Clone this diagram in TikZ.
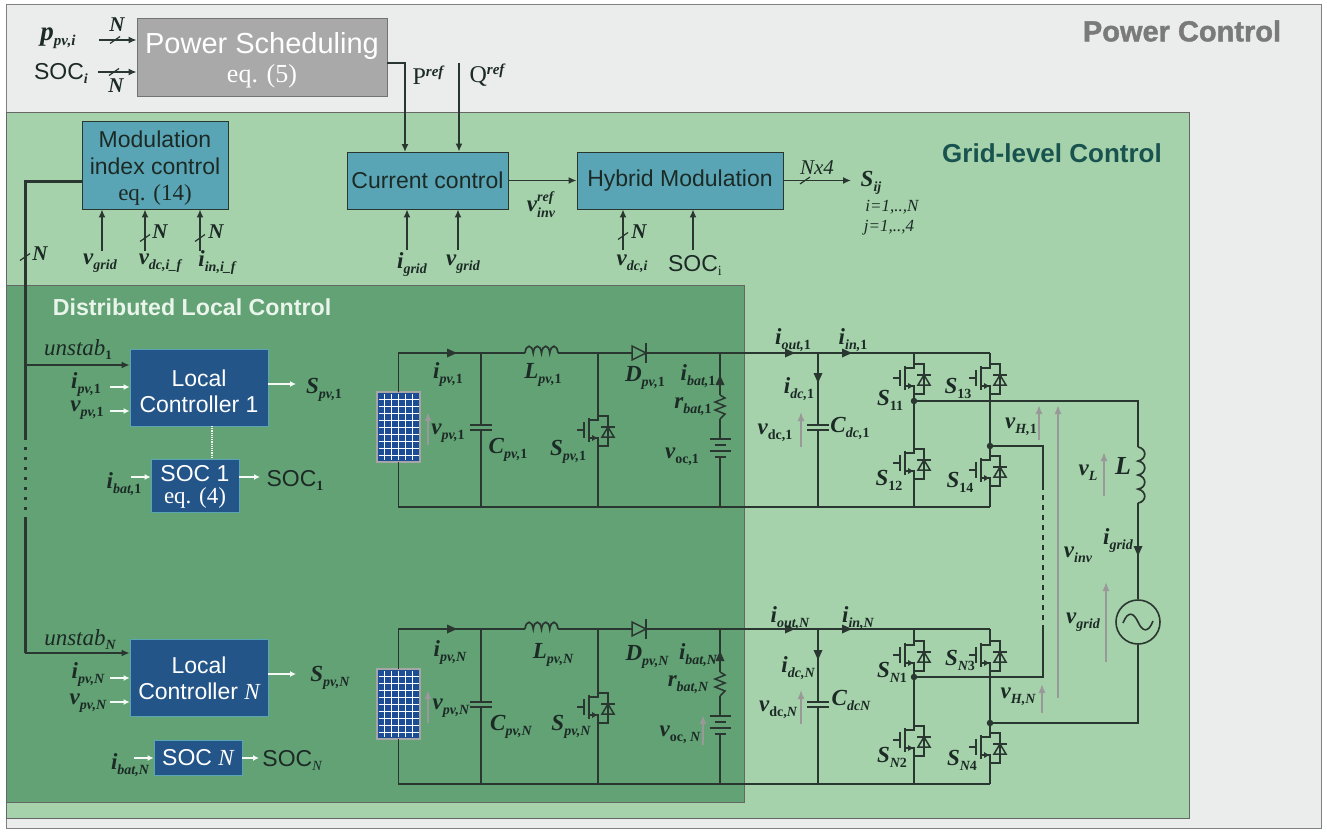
\documentclass[tikz,border=0pt]{standalone}
\usepackage{fontspec}
\usepackage{tikz}
\usetikzlibrary{arrows.meta}
\setmainfont{Liberation Sans}
\newfontfamily\tms{Liberation Serif}
\newfontfamily\pcf[BoldFeatures={FakeBold=1.4}]{Liberation Sans}
\definecolor{pc}{RGB}{235, 236, 236}
\definecolor{gc}{RGB}{166, 210, 171}
\definecolor{lc}{RGB}{98, 162, 117}
\definecolor{bb}{RGB}{90, 165, 181}
\definecolor{dd}{RGB}{36, 85, 137}
\definecolor{ss}{RGB}{169, 169, 169}
\definecolor{ww}{RGB}{42, 54, 48}
\definecolor{tt}{RGB}{28, 42, 38}
\definecolor{pb}{RGB}{28, 76, 150}
\newcommand{\fs}[1]{\fontsize{#1}{#1}\selectfont}
\newcommand{\pad}[1]{\rule{0pt}{#1}}
\newcommand{\lbl}[3]{{\tms\bfseries\itshape\fs{23}#1\raisebox{-5pt}{\fs{14}#2{\upshape #3}}}}
\newcommand{\lblb}[3]{{\tms\bfseries\itshape\fs{27}#1\raisebox{-5pt}{\fs{15}#2{\upshape #3}}}}
\newcommand{\lblu}[2]{{\tms\bfseries\itshape\fs{23}#1\raisebox{-5pt}{\upshape\fs{14}#2}}}
\newcommand{\lbls}[3]{{\tms\bfseries\itshape\fs{23}#1\rlap{\raisebox{10pt}{\fs{14}#3}}\raisebox{-6pt}{\fs{14}#2}}}
\newcommand{\lblr}[2]{{\tms\fs{24}#1\raisebox{8pt}{\bfseries\itshape\fs{15}#2}}}
\tikzset{
wire/.style={line width=1.5pt, color=ww},
arr/.style={line width=1.5pt, color=ww, -{Latex[length=8pt,width=7pt]}},
thk/.style={line width=3pt, color=ww},
warr/.style={line width=1.6pt, color=white!90!gc, -{Latex[length=6pt,width=6pt]}},
garr/.style={line width=1.6pt, color=black!40, -{Latex[length=9pt,width=7pt]}},
lab/.style={inner sep=0pt, text=tt},
blue/.style={rectangle, inner sep=0pt, fill=bb, draw=ww, line width=0.8pt, text=tt, align=center, font=\fontsize{23}{26.5}\selectfont},
navy/.style={rectangle, inner sep=0pt, fill=dd, draw=bb, line width=0.8pt, text=white, align=center, font=\fontsize{23}{26}\selectfont},
dot/.style={circle, inner sep=0pt, minimum size=6.5pt, fill=ww},
mosfet/.pic={
\coordinate (-d) at (0pt,18pt);
\coordinate (-s) at (0pt,-18pt);
\draw [wire] (-21pt,0pt) to (-14pt,0pt);
\draw [wire] (-14pt,8pt) to (-14pt,-8pt);
\draw [line width=2pt, color=ww] (-9.5pt,12pt) to (-9.5pt,-12pt);
\draw [wire] (-9.5pt,10pt) -- (0pt,10pt) -- (0pt,18pt);
\draw [wire] (-9.5pt,-8pt) -- (0pt,-8pt) -- (0pt,-18pt);
\fill [ww] (-6pt,-5pt) -- (-1pt,-8pt) -- (-6pt,-11pt) -- cycle;
\draw [wire] (0pt,14pt) -- (10pt,14pt) -- (10pt,-16pt) -- (0pt,-16pt);
\draw [wire] (3pt,3pt) to (17pt,3pt);
\draw [wire] (10pt,3pt) -- (4pt,-7pt) -- (16pt,-7pt) -- cycle;
},
coil/.pic={
\coordinate (-a) at (0pt,0pt);
\coordinate (-b) at (33pt,0pt);
\draw [line width=1.7pt, color=ww] (0pt,0pt) .. controls (1pt,9pt) and (7pt,9pt) .. (8.25pt,0pt) .. controls (9pt,9pt) and (15.5pt,9pt) .. (16.5pt,0pt) .. controls (17.5pt,9pt) and (24pt,9pt) .. (24.75pt,0pt) .. controls (26pt,9pt) and (32pt,9pt) .. (33pt,0pt);
},
diode/.pic={
\coordinate (-a) at (-7pt,0pt);
\coordinate (-b) at (7pt,0pt);
\draw [wire] (-7pt,7pt) -- (7pt,0pt) -- (-7pt,-7pt) -- cycle;
\draw [line width=1.9pt, color=ww] (7pt,10pt) to (7pt,-10pt);
},
capa/.pic={
\coordinate (-a) at (0pt,2pt);
\coordinate (-b) at (0pt,-2pt);
\draw [line width=2pt, color=ww] (-11pt,2.5pt) to (11pt,2.5pt);
\draw [line width=2pt, color=ww] (-11pt,-2.5pt) to (11pt,-2.5pt);
},
batt/.pic={
\coordinate (-a) at (0pt,9pt);
\coordinate (-b) at (0pt,-9pt);
\draw [line width=2pt, color=ww] (-10.5pt,9pt) to (10.5pt,9pt);
\draw [line width=2pt, color=ww] (-5.5pt,3pt) to (5.5pt,3pt);
\draw [line width=2pt, color=ww] (-10.5pt,-3pt) to (10.5pt,-3pt);
\draw [line width=2pt, color=ww] (-5.5pt,-9pt) to (5.5pt,-9pt);
},
resi/.pic={
\coordinate (-a) at (0pt,12pt);
\coordinate (-b) at (0pt,-12pt);
\draw [wire] (0pt,12pt) -- (5pt,9pt) -- (-5pt,5pt) -- (5pt,1pt) -- (-5pt,-3pt) -- (5pt,-7pt) -- (0pt,-12pt);
},
panel/.pic={
\coordinate (-a) at (0pt,35pt);
\coordinate (-b) at (0pt,-35pt);
\fill [pb] (-21.5pt,35pt) rectangle (21.5pt,-35pt);
\foreach \i in {-14.5,-7.5,...,15} \draw [line width=0.45pt, color=white] (\i pt,33pt) to (\i pt,-33pt);
\foreach \j in {-28,-21,...,29} \draw [line width=0.45pt, color=white] (-20pt,\j pt) to (20pt,\j pt);
\draw [line width=1.8pt, color=black!35] (-21.5pt,35pt) rectangle (21.5pt,-35pt);
},
slash/.pic={\draw [line width=1.2pt, color=ww] (-5pt,-3.5pt) to (5pt,3.5pt);},
flow/.pic={\fill [ww] (-5pt,4.5pt) -- (5pt,0pt) -- (-5pt,-4.5pt) -- cycle;},
wave/.pic={\draw [line width=1.6pt, color=ww] (-15pt,-1pt) .. controls (-10pt,12pt) and (-4pt,9pt) .. (0pt,0pt) .. controls (4pt,-9pt) and (10pt,-12pt) .. (15pt,1pt);},
}

\begin{document}
\begin{tikzpicture}
\useasboundingbox (0pt, 0pt) rectangle (1327pt, -832pt);
\draw [line width=0.8pt, draw=black!50, fill=pc] (6pt, -4pt) rectangle (1321pt, -828pt);
\draw [line width=0.8pt, draw=black!60, fill=gc] (6pt, -112pt) rectangle (1189pt, -818pt);
\draw [line width=0.8pt, draw=black!60, fill=lc] (6pt, -285pt) rectangle (744pt, -802pt);
\node (pct) [lab, text=black!52, font=\pcf\bfseries\fontsize{29}{29}\selectfont] at (1182pt, -31pt) {Power Control};
\node (gct) [lab, text=ww!60!teal, font=\bfseries\fontsize{26}{26}\selectfont] at (1052pt, -153pt) {Grid-level Control};
\node (lct) [lab, text=white!75!gc, font=\bfseries\fontsize{23.2}{23.2}\selectfont] at (192pt, -307pt) {Distributed Local Control};

\node (ps) [rectangle, inner sep=0pt, fill=ss, draw=black!55, line width=0.8pt, text=white, align=center, minimum width=250pt, minimum height=78pt] at (262pt, -57pt) {\pad{28pt}\fs{29}Power Scheduling\\[4pt]{\tms\fs{26}eq. (5)}};
\node (mod) [blue, minimum width=146pt, minimum height=88pt] at (155pt, -165pt) {\pad{23pt}Modulation\\index control\\{\tms eq. (14)}};
\node (cc) [blue, minimum width=161pt, minimum height=57pt] at (427.5pt, -180.5pt) {Current control};
\node (hm) [blue, minimum width=206pt, minimum height=57pt] at (680pt, -180.5pt) {Hybrid Modulation};
\node (lc1) [navy, minimum width=138pt, minimum height=77pt] at (199pt, -387.5pt) {\pad{25pt}Local\\Controller 1};
\node (lcn) [navy, minimum width=138pt, minimum height=77pt] at (199pt, -678pt) {Local\\Controller {\tms\itshape N}};
\node (soc1) [navy, minimum width=88pt, minimum height=53pt] at (195pt, -485.5pt) {\pad{18pt}SOC 1\\[-4pt]{\tms eq. (4)}};
\node (socn) [navy, minimum width=88pt, minimum height=35pt] at (198pt, -758pt) {SOC {\tms\itshape N}};

\node (l1) [lab] at (58pt, -38pt) {\lblb{p}{pv,i}{}};
\node (l2) [lab] at (61pt, -73pt) {{\fs{23}SOC\raisebox{-4pt}{\tms\bfseries\itshape\fs{14}i}}};
\node (l3) [lab] at (117pt, -25pt) {{\tms\bfseries\itshape\fs{21}N}};
\node (l4) [lab] at (116pt, -86pt) {{\tms\bfseries\itshape\fs{21}N}};
\coordinate (a1) at (99pt, -40pt);
\coordinate (a2) at (98pt, -72pt);
\draw [arr] (a1) to (a1 -| ps.west);
\draw [arr] (a2) to (a2 -| ps.west);
\pic at (115pt, -40pt) {slash};
\pic at (114pt, -72pt) {slash};
\coordinate (pa) at (387pt, -63pt);
\coordinate (pq) at (405pt, -152pt);
\coordinate (qa) at (459pt, -63pt);
\draw [arr] (pa) -| (pq);
\draw [arr] (qa) to (qa |- cc.north);
\node (l5) [lab] at (428pt, -75pt) {\lblr{P}{ref}};
\node (l6) [lab] at (487pt, -75pt) {\lblr{Q}{ref}};

\coordinate (m1) at (102pt, -251pt);
\coordinate (m2) at (145pt, -251pt);
\coordinate (m3) at (200pt, -251pt);
\draw [arr] (m1) to (m1 |- mod.south);
\draw [arr] (m2) to (m2 |- mod.south);
\draw [arr] (m3) to (m3 |- mod.south);
\pic at (145pt, -238pt) {slash};
\pic at (200pt, -238pt) {slash};
\node (l7) [lab] at (160pt, -232pt) {{\tms\bfseries\itshape\fs{21}N}};
\node (l8) [lab] at (216pt, -232pt) {{\tms\bfseries\itshape\fs{21}N}};
\node (l9) [lab] at (100pt, -263pt) {\lbl{v}{grid}{}};
\node (l10) [lab] at (160pt, -263pt) {\lbl{v}{dc,i\_f}{}};
\node (l11) [lab] at (217pt, -263pt) {\lbl{i}{in,i\_f}{}};

\coordinate (c1) at (407pt, -250pt);
\coordinate (c2) at (458pt, -250pt);
\draw [arr] (c1) to (c1 |- cc.south);
\draw [arr] (c2) to (c2 |- cc.south);
\node (l12) [lab] at (412pt, -265pt) {\lbl{i}{grid}{}};
\node (l13) [lab] at (463pt, -264pt) {\lbl{v}{grid}{}};
\draw [arr] (cc.east) to (hm.west);
\node (l14) [lab] at (541pt, -205pt) {\lbls{v}{inv}{ref}};

\coordinate (h1) at (623pt, -250pt);
\coordinate (h2) at (693pt, -250pt);
\coordinate (h3) at (851pt, -180.5pt);
\draw [arr] (h1) to (h1 |- hm.south);
\draw [arr] (h2) to (h2 |- hm.south);
\draw [arr] (hm.east) to (h3);
\pic at (623pt, -236pt) {slash};
\pic at (805pt, -180.5pt) {slash};
\node (l15) [lab] at (639pt, -232pt) {{\tms\bfseries\itshape\fs{21}N}};
\node (l16) [lab] at (632pt, -264pt) {\lbl{v}{dc,i}{}};
\node (l17) [lab] at (695pt, -265pt) {{\fs{23}SOC\raisebox{-4pt}{\tms\fs{14}i}}};
\node (l18) [lab] at (817pt, -168pt) {{\tms\itshape\fs{21}Nx4}};
\node (l19) [lab] at (871pt, -183pt) {\lbl{S}{ij}{}};
\node (l20) [lab] at (892pt, -207pt) {{\tms\itshape\fs{17}i=1,..,N}};
\node (l21) [lab] at (889pt, -228pt) {{\tms\itshape\fs{17}j=1,..,4}};

\coordinate (k1) at (82pt, -181pt);
\coordinate (n1) at (25pt, -437pt);
\coordinate (n2) at (25pt, -517pt);
\coordinate (u1) at (25pt, -365pt);
\coordinate (u2) at (25pt, -653pt);
\draw [thk] (k1) -| (n1);
\draw [thk, dash pattern=on 3pt off 7pt] (n1) to (n2);
\draw [thk] (n2) to (u2);
\pic at (25pt, -257pt) {slash};
\node (l22) [lab] at (40pt, -254pt) {{\tms\bfseries\itshape\fs{21}N}};
\draw [arr] (u1) to (u1 -| lc1.west);
\draw [arr] (u2) to (u2 -| lcn.west);
\node (l23) [lab] at (78pt, -350pt) {{\tms\itshape\fs{23}unstab\raisebox{-4pt}{\bfseries\upshape\fs{13}1}}};
\node (l24) [lab] at (80pt, -640pt) {{\tms\itshape\fs{23}unstab\raisebox{-4pt}{\bfseries\fs{14}N}}};

\coordinate (w1) at (110pt, -387pt);
\coordinate (w2) at (110pt, -411pt);
\coordinate (w3) at (296pt, -384pt);
\coordinate (w4) at (131pt, -477pt);
\coordinate (w5) at (260pt, -477pt);
\coordinate (w6) at (110pt, -678pt);
\coordinate (w7) at (110pt, -702pt);
\coordinate (w8) at (296pt, -674pt);
\coordinate (w9) at (134pt, -758pt);
\coordinate (w10) at (259pt, -758pt);
\draw [warr] (w1) to (w1 -| lc1.west);
\draw [warr] (w2) to (w2 -| lc1.west);
\draw [warr] (w3 -| lc1.east) to (w3);
\draw [warr] (w4) to (w4 -| soc1.west);
\draw [warr] (w5 -| soc1.east) to (w5);
\draw [warr] (w6) to (w6 -| lcn.west);
\draw [warr] (w7) to (w7 -| lcn.west);
\draw [warr] (w8 -| lcn.east) to (w8);
\draw [warr] (w9) to (w9 -| socn.west);
\draw [warr] (w10 -| socn.east) to (w10);
\coordinate (w11) at (212pt, -426pt);
\draw [line width=1.2pt, color=white!90!gc, densely dotted] (w11) to (w11 |- soc1.north);
\node (l25) [lab] at (86pt, -385pt) {\lbl{i}{pv,}{1}};
\node (l26) [lab] at (87pt, -410pt) {\lbl{v}{pv,}{1}};
\node (l27) [lab] at (324pt, -390pt) {\lbl{S}{pv,}{1}};
\node (l28) [lab] at (124pt, -484pt) {\lbl{i}{bat,}{1}};
\node (l29) [lab] at (295pt, -480pt) {{\fs{23}SOC\raisebox{-4pt}{\tms\bfseries\fs{14}1}}};
\node (l30) [lab] at (88pt, -675pt) {\lbl{i}{pv,N}{}};
\node (l31) [lab] at (88pt, -703pt) {\lbl{v}{pv,N}{}};
\node (l32) [lab] at (330pt, -678pt) {\lbl{S}{pv,N}{}};
\node (l33) [lab] at (130pt, -765pt) {\lbl{i}{bat,N}{}};
\node (l34) [lab] at (292pt, -760pt) {{\fs{23}SOC\raisebox{-4pt}{\tms\itshape\fs{14}N}}};

\coordinate (te1) at (990pt, -353pt);
\coordinate (be1) at (990pt, -507pt);
\pic (pv1) at (398.5pt, -427pt) {panel};
\pic (in1) at (525pt, -353pt) {coil};
\pic (di1) at (639pt, -353pt) {diode};
\pic (cp1) at (481pt, -427pt) {capa};
\pic (sp1) at (598pt, -430pt) {mosfet};
\pic (rb1) at (720pt, -407pt) {resi};
\pic (bt1) at (720pt, -448pt) {batt};
\pic (cd1) at (818pt, -427pt) {capa};
\pic (m11) at (914pt, -378pt) {mosfet};
\pic (m12) at (914pt, -463pt) {mosfet};
\pic (m13) at (990pt, -378pt) {mosfet};
\pic (m14) at (990pt, -470pt) {mosfet};
\draw [wire] (pv1-a) |- (in1-a);
\draw [wire] (in1-b) to (di1-a);
\draw [wire] (di1-b) to (te1);
\draw [wire] (pv1-b) |- (be1);
\draw [wire] (cp1-a) to (cp1-a |- te1);
\draw [wire] (cp1-b) to (cp1-b |- be1);
\draw [wire] (sp1-d) to (sp1-d |- te1);
\draw [wire] (sp1-s) to (sp1-s |- be1);
\draw [wire] (rb1-a) to (rb1-a |- te1);
\draw [wire] (rb1-b) to (bt1-a);
\draw [wire] (bt1-b) to (bt1-b |- be1);
\draw [wire] (cd1-a) to (cd1-a |- te1);
\draw [wire] (cd1-b) to (cd1-b |- be1);
\draw [wire] (m11-d) to (m11-d |- te1);
\draw [wire] (m11-s) to (m12-d);
\draw [wire] (m12-s) to (m12-s |- be1);
\draw [wire] (m13-d) to (te1);
\draw [wire] (m13-s) to (m14-d);
\draw [wire] (m14-s) to (be1);
\pic at (452pt, -353pt) {flow};
\pic at (790pt, -353pt) {flow};
\pic at (847pt, -353pt) {flow};
\pic [rotate=90] at (720pt, -380pt) {flow};
\pic [rotate=-90] at (818pt, -378pt) {flow};

\coordinate (te2) at (990pt, -629pt);
\coordinate (be2) at (990pt, -784pt);
\pic (pv2) at (398.5pt, -704pt) {panel};
\pic (in2) at (525pt, -629pt) {coil};
\pic (di2) at (639pt, -629pt) {diode};
\pic (cp2) at (481pt, -704pt) {capa};
\pic (sp2) at (598pt, -707pt) {mosfet};
\pic (rb2) at (720pt, -684pt) {resi};
\pic (bt2) at (720pt, -725pt) {batt};
\pic (cd2) at (818pt, -704pt) {capa};
\pic (m21) at (914pt, -655pt) {mosfet};
\pic (m22) at (914pt, -740pt) {mosfet};
\pic (m23) at (990pt, -655pt) {mosfet};
\pic (m24) at (990pt, -747pt) {mosfet};
\draw [wire] (pv2-a) |- (in2-a);
\draw [wire] (in2-b) to (di2-a);
\draw [wire] (di2-b) to (te2);
\draw [wire] (pv2-b) |- (be2);
\draw [wire] (cp2-a) to (cp2-a |- te2);
\draw [wire] (cp2-b) to (cp2-b |- be2);
\draw [wire] (sp2-d) to (sp2-d |- te2);
\draw [wire] (sp2-s) to (sp2-s |- be2);
\draw [wire] (rb2-a) to (rb2-a |- te2);
\draw [wire] (rb2-b) to (bt2-a);
\draw [wire] (bt2-b) to (bt2-b |- be2);
\draw [wire] (cd2-a) to (cd2-a |- te2);
\draw [wire] (cd2-b) to (cd2-b |- be2);
\draw [wire] (m21-d) to (m21-d |- te2);
\draw [wire] (m21-s) to (m22-d);
\draw [wire] (m22-s) to (m22-s |- be2);
\draw [wire] (m23-d) to (te2);
\draw [wire] (m23-s) to (m24-d);
\draw [wire] (m24-s) to (be2);
\pic at (452pt, -629pt) {flow};
\pic at (790pt, -629pt) {flow};
\pic at (847pt, -629pt) {flow};
\pic [rotate=90] at (720pt, -656pt) {flow};
\pic [rotate=-90] at (818pt, -655pt) {flow};

\node (j1) [dot] at (914pt, -401pt) {};
\node (j2) [dot] at (990pt, -446pt) {};
\node (j3) [dot] at (914pt, -677pt) {};
\node (j4) [dot] at (990pt, -723pt) {};
\node (src) [circle, inner sep=0pt, minimum size=44pt, draw=ww, line width=1.6pt] at (1138pt, -622pt) {};
\pic at (1138pt, -622pt) {wave};
\pic (lo) [rotate=-90, xscale=1.7] at (1138pt, -447pt) {coil};
\coordinate (e1) at (1138pt, -401pt);
\coordinate (d1) at (1043pt, -485pt);
\coordinate (d2) at (1043pt, -630pt);
\draw [wire] (j1) -- (e1) -- (lo-a);
\draw [wire] (lo-b) to (src.north);
\draw [wire] (src.south) |- (j4);
\draw [wire] (j2) -| (d1);
\draw [wire, dash pattern=on 5pt off 5pt] (d1) to (d2);
\draw [wire] (d2) |- (j3);
\pic [rotate=-90] at (1138pt, -551pt) {flow};

\coordinate (g1) at (428pt, -445pt);
\coordinate (g2) at (801pt, -447pt);
\coordinate (g3) at (1039pt, -440pt);
\coordinate (g4) at (1058pt, -698pt);
\coordinate (g5) at (1104pt, -496pt);
\coordinate (g6) at (1106pt, -662pt);
\coordinate (g7) at (1042pt, -713pt);
\coordinate (g8) at (801pt, -724pt);
\coordinate (g9) at (428pt, -723pt);
\coordinate (g10) at (703pt, -745pt);
\draw [garr] (g1) to ++(0pt, 33pt);
\draw [garr] (g2) to ++(0pt, 35pt);
\draw [garr] (g3) to ++(0pt, 35pt);
\draw [garr] (g4) to ++(0pt, 293pt);
\draw [garr] (g5) to ++(0pt, 44pt);
\draw [garr] (g6) to ++(0pt, 80pt);
\draw [garr] (g7) to ++(0pt, 29pt);
\draw [garr] (g8) to ++(0pt, 34pt);
\draw [garr] (g9) to ++(0pt, 33pt);
\draw [garr] (g10) to ++(0pt, 30pt);

\node (t1) [lab] at (448pt, -375pt) {\lbl{i}{pv,}{1}};
\node (t2) [lab] at (543pt, -375pt) {\lbl{L}{pv,}{1}};
\node (t3) [lab] at (645pt, -378pt) {\lbl{D}{pv,}{1}};
\node (t4) [lab] at (698pt, -376pt) {\lbl{i}{bat,}{1}};
\node (t5) [lab] at (693pt, -407pt) {\lbl{r}{bat,}{1}};
\node (t6) [lab] at (682pt, -457pt) {\lblu{v}{oc,1}};
\node (t7) [lab] at (448pt, -433pt) {\lbl{v}{pv,}{1}};
\node (t8) [lab] at (508pt, -450pt) {\lbl{C}{pv,}{1}};
\node (t9) [lab] at (568pt, -452pt) {\lbl{S}{pv,}{1}};
\node (t10) [lab] at (793pt, -340pt) {\lbl{i}{out,}{1}};
\node (t11) [lab] at (853pt, -340pt) {\lbl{i}{in,}{1}};
\node (t12) [lab] at (799pt, -389pt) {\lbl{i}{dc,}{1}};
\node (t13) [lab] at (775pt, -433pt) {\lblu{v}{dc,1}};
\node (t14) [lab] at (850pt, -428pt) {\lbl{C}{dc,}{1}};
\node (t15) [lab] at (890pt, -400pt) {\lbl{S}{}{11}};
\node (t16) [lab] at (958pt, -388pt) {\lbl{S}{}{13}};
\node (t17) [lab] at (889pt, -480pt) {\lbl{S}{}{12}};
\node (t18) [lab] at (960pt, -482pt) {\lbl{S}{}{14}};
\node (t19) [lab] at (1021pt, -427pt) {\lbl{v}{H,}{1}};
\node (t20) [lab] at (1088pt, -473pt) {\lbl{v}{L}{}};
\node (t21) [lab] at (1123pt, -466pt) {{\tms\bfseries\itshape\fs{26}L}};
\node (t22) [lab] at (1118pt, -541pt) {\lbl{i}{grid}{}};
\node (t23) [lab] at (1078pt, -555pt) {\lbl{v}{inv}{}};
\node (t24) [lab] at (1083pt, -622pt) {\lbl{v}{grid}{}};

\node (r1) [lab] at (450pt, -653pt) {\lbl{i}{pv,N}{}};
\node (r2) [lab] at (553pt, -655pt) {\lbl{L}{pv,N}{}};
\node (r3) [lab] at (647pt, -657pt) {\lbl{D}{pv,N}{}};
\node (r4) [lab] at (698pt, -655pt) {\lbl{i}{bat,N}{}};
\node (r5) [lab] at (688pt, -685pt) {\lbl{r}{bat,N}{}};
\node (r6) [lab] at (680pt, -735pt) {\lblu{v}{oc, {\itshape N}}};
\node (r7) [lab] at (451pt, -708pt) {\lbl{v}{pv,N}{}};
\node (r8) [lab] at (511pt, -727pt) {\lbl{C}{pv,N}{}};
\node (r9) [lab] at (571pt, -727pt) {\lbl{S}{pv,N}{}};
\node (r10) [lab] at (790pt, -618pt) {\lbl{i}{out,N}{}};
\node (r11) [lab] at (858pt, -618pt) {\lbl{i}{in,N}{}};
\node (r12) [lab] at (798pt, -668pt) {\lbl{i}{dc,N}{}};
\node (r13) [lab] at (778pt, -710pt) {\lblu{v}{dc,{\itshape N}}};
\node (r14) [lab] at (851pt, -700pt) {\lbl{C}{dcN}{}};
\node (r15) [lab] at (892pt, -672pt) {\lbl{S}{N}{1}};
\node (r16) [lab] at (960pt, -660pt) {\lbl{S}{N}{3}};
\node (r17) [lab] at (892pt, -757pt) {\lbl{S}{N}{2}};
\node (r18) [lab] at (962pt, -760pt) {\lbl{S}{N}{4}};
\node (r19) [lab] at (1018pt, -697pt) {\lbl{v}{H,N}{}};
\end{tikzpicture}
\end{document}
